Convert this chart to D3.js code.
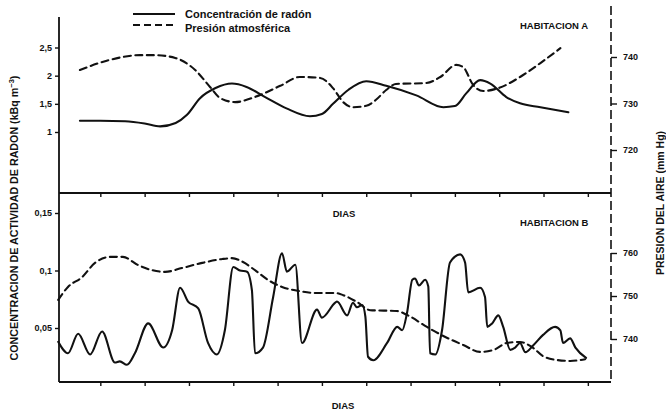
<!DOCTYPE html>
<html>
<head>
<meta charset="utf-8">
<script src="https://cdn.jsdelivr.net/npm/d3@7"></script>
<style>
  html, body { margin: 0; padding: 0; background: #fff; }
  svg { display: block; font-family: "Liberation Sans", Arial, sans-serif; }
  .tick text { font-weight: bold; font-size: 9px; fill: #111; }
  .tick line { stroke: #111; stroke-width: 1.4; }
</style>
</head>
<body>
<svg id="chart" width="666" height="411"></svg>
<script>
// Day ticks along both horizontal axes
const tickDays = [1, 2, 3, 4, 5, 6, 7, 8, 9, 10, 11, 12];

// Room A: radon concentration (kBq m-3)
const radonADays = [0.54, 1.0, 1.56, 2.0, 2.35, 2.7, 2.95, 3.25, 3.6, 3.97, 4.3, 4.72, 5.2, 5.73, 6.0, 6.25, 6.6, 7.0, 7.45, 8.13, 8.74, 9.0, 9.26, 9.57, 9.8, 10.16, 10.47, 10.93, 11.56];
const radonAValues = [1.2, 1.2, 1.19, 1.15, 1.1, 1.16, 1.3, 1.6, 1.78, 1.86, 1.8, 1.62, 1.42, 1.28, 1.32, 1.5, 1.75, 1.9, 1.82, 1.65, 1.44, 1.46, 1.69, 1.92, 1.86, 1.62, 1.51, 1.44, 1.35];

// Room A: air pressure (mm Hg)
const pressureADays = [0.54, 1.22, 1.9, 2.23, 2.69, 3.14, 3.48, 3.7, 4.04, 4.49, 5.06, 5.5, 5.96, 6.25, 6.48, 6.7, 7.0, 7.22, 7.45, 7.67, 8.35, 8.67, 9.03, 9.19, 9.41, 9.64, 9.98, 10.47, 10.93, 11.38];
const pressureAValues = [737.2, 739.4, 740.4, 740.4, 739.8, 737.2, 733.5, 731.2, 730.3, 731.4, 733.8, 735.7, 735.5, 733.3, 730.3, 729.2, 729.5, 730.8, 732.9, 734.2, 734.4, 735.7, 738.3, 737.8, 734, 732.7, 733.3, 735.7, 738.7, 741.9];

// Room B: radon concentration (kBq m-3)
const radonBDays = [0.05, 0.27, 0.5, 0.77, 1.04, 1.33, 1.44, 1.6, 1.78, 2.08, 2.42, 2.62, 2.8, 2.98, 3.21, 3.43, 3.63, 3.81, 4.0, 4.15, 4.31, 4.42, 4.49, 4.67, 4.9, 5.1, 5.21, 5.4, 5.55, 5.89, 6.0, 6.3, 6.34, 6.57, 6.7, 6.79, 6.91, 6.98, 7.04, 7.16, 7.47, 7.7, 7.81, 7.92, 8.04, 8.1, 8.19, 8.33, 8.4, 8.44, 8.56, 8.71, 8.89, 9.12, 9.23, 9.3, 9.57, 9.68, 9.73, 9.84, 9.98, 10.09, 10.25, 10.36, 10.47, 10.59, 10.77, 10.99, 11.26, 11.38, 11.44, 11.6, 11.72, 11.96];
const radonBValues = [0.038, 0.028, 0.045, 0.027, 0.047, 0.02, 0.021, 0.018, 0.028, 0.054, 0.033, 0.048, 0.085, 0.073, 0.067, 0.037, 0.027, 0.048, 0.103, 0.1, 0.099, 0.083, 0.028, 0.033, 0.077, 0.115, 0.099, 0.105, 0.037, 0.066, 0.059, 0.072, 0.073, 0.061, 0.072, 0.068, 0.07, 0.06, 0.025, 0.022, 0.037, 0.051, 0.048, 0.063, 0.092, 0.093, 0.087, 0.092, 0.086, 0.028, 0.027, 0.048, 0.107, 0.114, 0.107, 0.081, 0.085, 0.077, 0.051, 0.054, 0.061, 0.051, 0.031, 0.033, 0.037, 0.029, 0.035, 0.044, 0.051, 0.048, 0.037, 0.041, 0.033, 0.024];

// Room B: air pressure (mm Hg)
const pressureBDays = [0.05, 0.27, 0.59, 0.88, 1.22, 1.51, 1.85, 2.17, 2.46, 2.84, 3.3, 3.75, 3.97, 4.22, 4.49, 4.79, 5.1, 5.46, 5.85, 6.3, 6.48, 6.79, 7.09, 7.7, 7.92, 8.37, 8.74, 9.19, 9.57, 9.86, 10.18, 10.47, 10.77, 10.99, 11.31, 11.6, 11.94];
const pressureBValues = [749.1, 752.1, 754.4, 757.7, 759.1, 759.1, 757.2, 756, 755.6, 756.5, 757.7, 758.6, 758.8, 757.9, 756, 753.7, 752.1, 751.2, 750.7, 750.7, 750.2, 748.6, 746.7, 746.5, 745.6, 742.8, 740.7, 738.6, 737, 737.4, 739.1, 739.3, 737.9, 736, 735.1, 734.9, 735.3];

// Axis tick values
const radonATicks = [1, 1.5, 2, 2.5];
const pressureATicks = [720, 730, 740];
const radonBTicks = [0.05, 0.1, 0.15];
const pressureBTicks = [740, 750, 760];

const svg = d3.select("#chart");
const ink = "#111";
const comma = d => String(d).replace(".", ",");

// Frame geometry
const left = 59, right = 611;
const topA = 17, baseA = 193, baseB = 382;

// Scales
const x = d3.scaleLinear().domain([0, 12.5]).range([56, 610]);
const yRadonA = d3.scaleLinear().domain([1, 2.5]).range([132, 47.5]);
const yPressA = d3.scaleLinear().domain([720, 740]).range([150, 57]);
const yRadonB = d3.scaleLinear().domain([0.05, 0.15]).range([328, 213]);
const yPressB = d3.scaleLinear().domain([740, 760]).range([339, 253]);

// Frame lines
const frame = svg.append("g").attr("stroke", ink).attr("fill", "none");
frame.append("line").attr("x1", left).attr("x2", left).attr("y1", topA).attr("y2", baseB).attr("stroke-width", 1.8);
frame.append("line").attr("x1", left).attr("x2", right).attr("y1", baseA).attr("y2", baseA).attr("stroke-width", 1.8);
frame.append("line").attr("x1", left).attr("x2", right).attr("y1", baseB).attr("y2", baseB).attr("stroke-width", 1.8);
frame.append("line").attr("x1", right).attr("x2", right).attr("y1", 6).attr("y2", baseB)
  .attr("stroke-width", 1.6).attr("stroke-dasharray", "9,4");

// Bottom day ticks of both panels
function dayAxis(yPos) {
  const g = svg.append("g").attr("transform", `translate(0,${yPos})`)
    .call(d3.axisBottom(x).tickValues(tickDays).tickFormat("").tickSize(4).tickSizeOuter(0));
  g.select(".domain").remove();
}
dayAxis(baseA);
dayAxis(baseB);

// Left and right value axes
function valueAxis(axis, xPos) {
  const g = svg.append("g").attr("transform", `translate(${xPos},0)`).call(axis);
  g.select(".domain").remove();
  return g;
}
valueAxis(d3.axisLeft(yRadonA).tickValues(radonATicks).tickFormat(comma).tickSize(4).tickPadding(3), left);
valueAxis(d3.axisLeft(yRadonB).tickValues(radonBTicks).tickFormat(comma).tickSize(4).tickPadding(3), left);
valueAxis(d3.axisRight(yPressA).tickValues(pressureATicks).tickSize(6).tickPadding(6), right);
valueAxis(d3.axisRight(yPressB).tickValues(pressureBTicks).tickSize(6).tickPadding(6), right);

// Series
function series(days, values, yScale, dashed) {
  const pts = days.map((d, i) => [d, values[i]]);
  const line = d3.line().x(p => x(p[0])).y(p => yScale(p[1])).curve(d3.curveMonotoneX);
  svg.append("path").datum(pts).attr("d", line)
    .attr("fill", "none").attr("stroke", ink).attr("stroke-width", 2.1)
    .attr("stroke-linejoin", "round").attr("stroke-linecap", "round")
    .attr("stroke-dasharray", dashed ? "7,4.5" : null);
}
series(radonADays, radonAValues, yRadonA, false);
series(pressureADays, pressureAValues, yPressA, true);
series(radonBDays, radonBValues, yRadonB, false);
series(pressureBDays, pressureBValues, yPressB, true);

// Legend
const legend = svg.append("g");
legend.append("line").attr("x1", 133).attr("x2", 175).attr("y1", 14).attr("y2", 14)
  .attr("stroke", ink).attr("stroke-width", 2.1);
legend.append("line").attr("x1", 133).attr("x2", 175).attr("y1", 25).attr("y2", 25)
  .attr("stroke", ink).attr("stroke-width", 2.1).attr("stroke-dasharray", "7,4");
legend.append("text").attr("x", 185).attr("y", 18).text("Concentración de radón")
  .attr("font-size", 11).attr("font-weight", "bold").attr("fill", ink);
legend.append("text").attr("x", 185).attr("y", 32).text("Presión atmosférica")
  .attr("font-size", 11).attr("font-weight", "bold").attr("fill", ink);

// Panel labels and axis titles
function label(txt, xPos, yPos, size, anchor, rotate) {
  const t = svg.append("text").text(txt)
    .attr("font-size", size).attr("font-weight", "bold").attr("fill", ink)
    .attr("text-anchor", anchor || "start");
  if (rotate) t.attr("transform", `translate(${xPos},${yPos}) rotate(-90)`);
  else t.attr("x", xPos).attr("y", yPos);
  return t;
}
label("HABITACION A", 520, 29, 9.5);
label("HABITACION B", 520, 226, 9.5);
label("DIAS", 344, 217, 9.5, "middle");
label("DIAS", 343, 409, 9.5, "middle");

const leftTitle = svg.append("text")
  .attr("transform", "translate(18,218) rotate(-90)")
  .attr("text-anchor", "middle").attr("font-size", 10.7).attr("font-weight", "bold").attr("fill", ink);
leftTitle.append("tspan").text("CONCENTRACION DE ACTIVIDAD DE RADON (kBq m");
leftTitle.append("tspan").text("−3").attr("font-size", 7.5).attr("dy", -4);
leftTitle.append("tspan").text(")").attr("dy", 4);

label("PRESION DEL AIRE (mm Hg)", 664, 203, 10.5, "middle", true);
</script>
</body>
</html>
